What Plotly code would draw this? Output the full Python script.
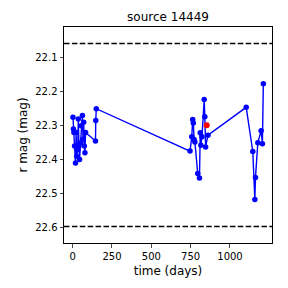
import plotly.graph_objects as go

# light curve (time in days, r mag)
t_days = [2, 5, 8, 12, 18, 22, 26, 32, 36, 40, 44, 50, 55, 62, 66, 70, 74, 78, 82,
          145, 147, 150,
          746, 757, 763, 767, 772, 777, 795, 806, 811, 815, 822, 836, 840, 845, 860,
          1103, 1145, 1158, 1162, 1177, 1198, 1206, 1212]
r_mag = [22.275, 22.31, 22.32, 22.36, 22.41, 22.32, 22.39, 22.37, 22.28, 22.36, 22.40,
         22.35, 22.30, 22.27, 22.34, 22.29, 22.36, 22.38, 22.32,
         22.345, 22.285, 22.25,
         22.375, 22.333, 22.282, 22.292, 22.341, 22.348, 22.441, 22.454, 22.321, 22.358,
         22.333, 22.223, 22.274, 22.363, 22.328,
         22.246, 22.376, 22.518, 22.453, 22.35, 22.315, 22.353, 22.176]

# flagged point
flag_t = [852]
flag_mag = [22.299]

# threshold levels (dashed)
thresholds = [22.058, 22.597]

x_ticks = [0, 250, 500, 750, 1000]
y_ticks = [22.1, 22.2, 22.3, 22.4, 22.5, 22.6]

fig = go.Figure()
fig.add_trace(go.Scatter(x=t_days, y=r_mag, mode="lines+markers",
                         line=dict(color="blue", width=1.4),
                         marker=dict(color="blue", size=5.5), showlegend=False))
fig.add_trace(go.Scatter(x=flag_t, y=flag_mag, mode="markers",
                         marker=dict(color="red", size=6), showlegend=False))

for th in thresholds:
    fig.add_shape(type="line", xref="paper", x0=0, x1=1, yref="y", y0=th, y1=th,
                  line=dict(color="black", width=1.5, dash="5.5px,2.4px"))

font = "DejaVu Sans, sans-serif"
fig.update_layout(
    width=288, height=288,
    margin=dict(l=64, r=16, t=27, b=45),
    paper_bgcolor="white", plot_bgcolor="white",
    font=dict(family=font, size=10, color="black"),
    title=dict(text="source 14449", x=(64 + 272) / 2 / 288, xanchor="center",
               y=1 - 17 / 288, yanchor="middle", font=dict(size=12)),
    xaxis=dict(range=[-55, 1267], tickvals=x_ticks, ticks="outside", ticklen=3.5,
               showgrid=False, zeroline=False, showline=True, mirror=True,
               linecolor="black", linewidth=1,
               title=dict(text="time (days)", font=dict(size=12), standoff=6)),
    yaxis=dict(range=[22.646, 22.009], tickvals=y_ticks, ticktext=[f"{v:.1f}" for v in y_ticks],
               ticks="outside", ticklen=3.5,
               showgrid=False, zeroline=False, showline=True, mirror=True,
               linecolor="black", linewidth=1,
               title=dict(text="r mag (mag)", font=dict(size=12), standoff=5)),
)

fig.write_html("out.html", config={"displayModeBar": False},
               post_script="document.body.style.margin='0';document.body.style.padding='0';")
